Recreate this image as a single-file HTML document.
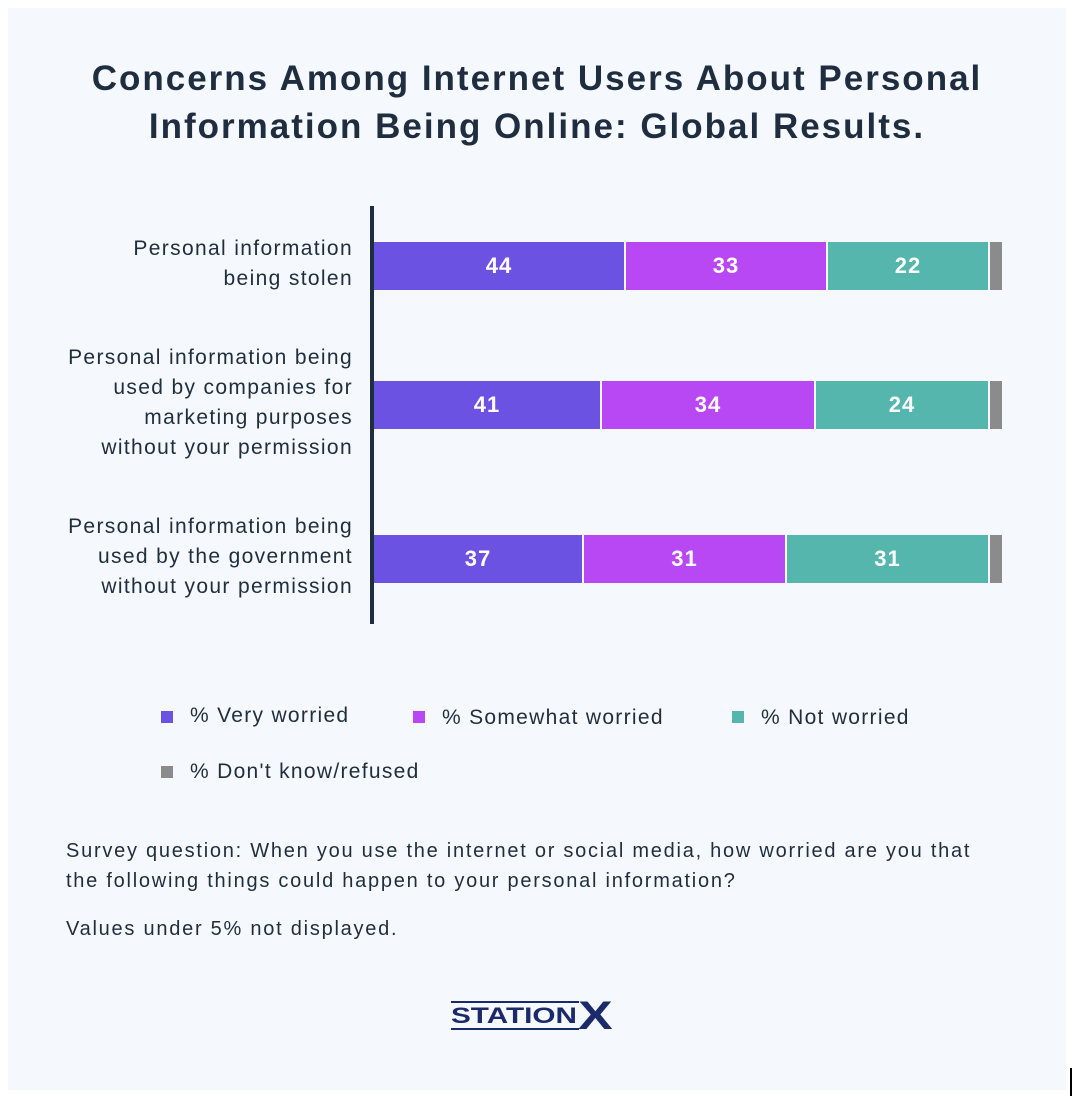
<!DOCTYPE html>
<html><head><style>
body{margin:0;width:1074px;height:1098px;background:#fff;position:relative;font-family:"Liberation Sans",sans-serif;color:#1f2d3d;overflow:hidden}
.panel{position:absolute;left:8px;top:8px;width:1058px;height:1082px;background:#f5f9fd}
.t{position:absolute;left:0;width:1074px;text-align:center;font-weight:bold;font-size:35px;letter-spacing:2px;line-height:48px;top:55px;color:#1e2d3f}
.lab{position:absolute;right:721px;text-align:right;font-size:21px;letter-spacing:1.35px;line-height:30px}
.b{position:absolute;height:48px;color:#fff;font-weight:bold;font-size:22px;letter-spacing:1px;line-height:48px;text-align:center}
.p{background:#6c52e3}.m{background:#b847f4}.g{background:#54b6ac}.k{background:#8b8b8d}
.leg{position:absolute;font-size:21px;letter-spacing:1.3px;line-height:24px}
.sq{position:absolute;width:12px;height:12px}
.s{position:absolute;left:66px;font-size:20px;letter-spacing:1.75px;line-height:30px;white-space:nowrap}
</style></head><body>
<div class="panel"></div>
<div class="t">Concerns Among Internet Users About Personal<br>Information Being Online: Global Results.</div>
<div style="position:absolute;left:370px;top:206px;width:4px;height:418px;background:#1e2d3f"></div>
<div class="lab" style="top:234px">Personal information<br>being stolen</div>
<div class="lab" style="top:343px">Personal information being<br>used by companies for<br>marketing purposes<br>without your permission</div>
<div class="lab" style="top:512px">Personal information being<br>used by the government<br>without your permission</div>

<div class="b p" style="left:374px;width:250px;top:242px">44</div>
<div class="b m" style="left:626px;width:200px;top:242px">33</div>
<div class="b g" style="left:828px;width:160px;top:242px">22</div>
<div class="b k" style="left:990px;width:12px;top:242px"></div>

<div class="b p" style="left:374px;width:226px;top:381px">41</div>
<div class="b m" style="left:602px;width:212px;top:381px">34</div>
<div class="b g" style="left:816px;width:172px;top:381px">24</div>
<div class="b k" style="left:990px;width:12px;top:381px"></div>

<div class="b p" style="left:374px;width:208px;top:535px">37</div>
<div class="b m" style="left:584px;width:201px;top:535px">31</div>
<div class="b g" style="left:787px;width:201px;top:535px">31</div>
<div class="b k" style="left:990px;width:12px;top:535px"></div>

<div class="sq p" style="left:161px;top:711px"></div><div class="leg" style="left:190px;top:704px">% Very worried</div>
<div class="sq m" style="left:413px;top:711px"></div><div class="leg" style="left:442px;top:706px">% Somewhat worried</div>
<div class="sq g" style="left:732px;top:711px"></div><div class="leg" style="left:761px;top:706px">% Not worried</div>
<div class="sq k" style="left:161px;top:766px"></div><div class="leg" style="left:190px;top:760px">% Don't know/refused</div>

<div class="s" style="top:836px">Survey question: When you use the internet or social media, how worried are you that<br>the following things could happen to your personal information?</div>
<div class="s" style="top:914px">Values under 5% not displayed.</div>

<div style="position:absolute;left:451px;top:1001px;width:128px;height:2px;background:#1b2a6b"></div>
<div style="position:absolute;left:451px;top:1028px;width:128px;height:2px;background:#1b2a6b"></div>
<div style="position:absolute;left:451px;top:1005px;font-weight:900;font-size:22px;line-height:22px;color:#1b2a6b;transform:scaleX(1.35);transform-origin:0 0">STATION</div>
<div style="position:absolute;left:578px;top:996px;font-weight:900;font-size:40px;line-height:40px;color:#1b2a6b;transform:scaleX(1.3);transform-origin:0 0">X</div>
<div style="position:absolute;left:1070px;top:1068px;width:2px;height:28px;background:#000"></div>
</body></html>
